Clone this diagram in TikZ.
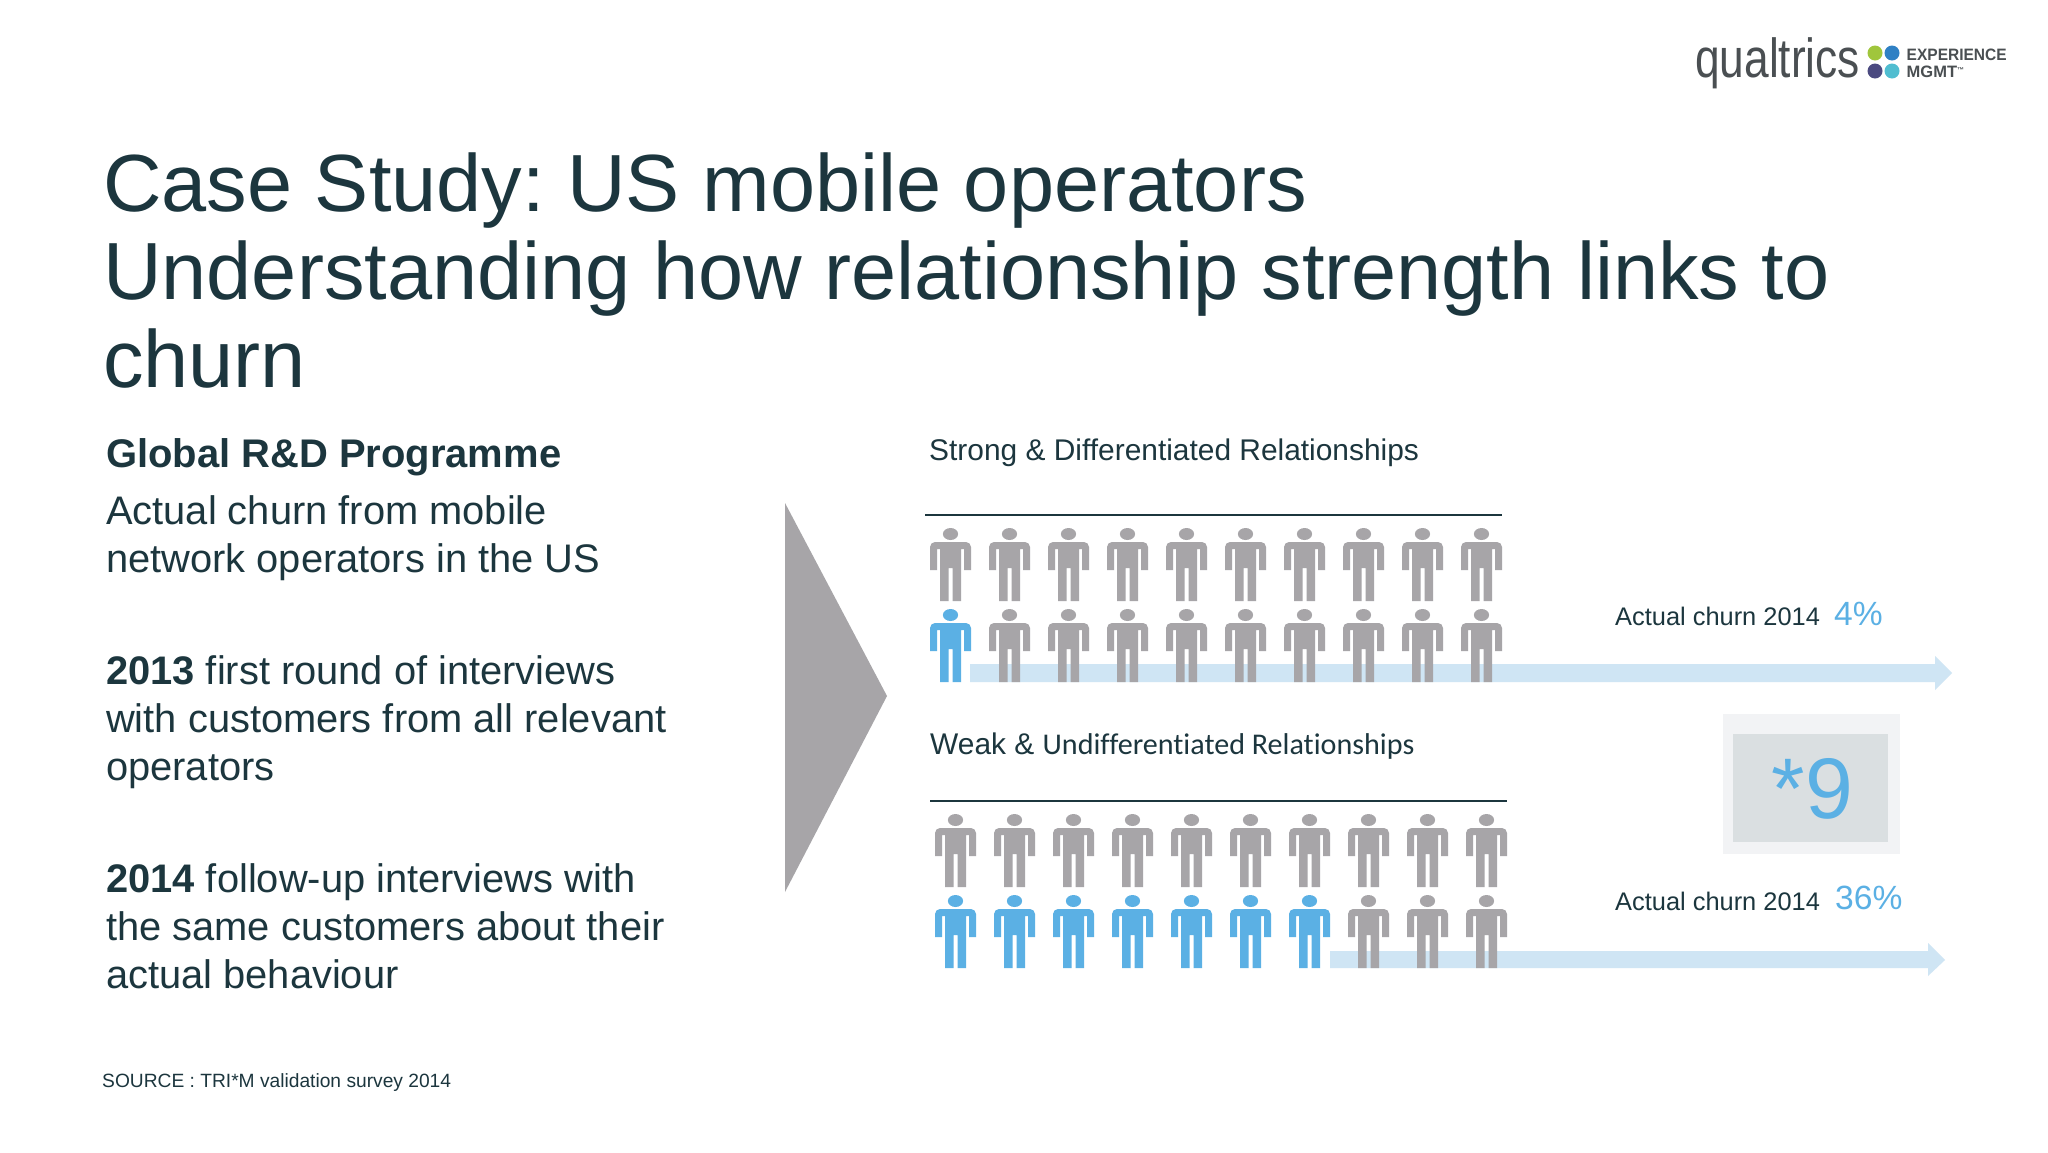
\documentclass[tikz,border=0pt]{standalone}
\usepackage{fontspec}
\setmainfont{Liberation Sans}
\newfontfamily\weakfont[Ligatures=NoCommon]{Carlito}
\frenchspacing
\definecolor{ink}{HTML}{1C363E}
\definecolor{blue}{HTML}{5BB0E4}
\definecolor{pale}{HTML}{CFE5F4}
\definecolor{grey}{HTML}{A7A5A8}
\definecolor{boxo}{HTML}{F2F3F5}
\definecolor{boxi}{HTML}{DADFE1}
\definecolor{logotext}{HTML}{4A4F52}
\definecolor{dotgreen}{HTML}{A0C63C}
\definecolor{dotblue}{HTML}{2F80C4}
\definecolor{dotnavy}{HTML}{4B4A80}
\definecolor{dotteal}{HTML}{50BDD0}
\tikzset{
  x=1pt,y=-1pt,
  lbl/.style={anchor=base west,inner sep=0pt,text=ink},
  title/.style={lbl,font=\fontsize{81.1}{88}\selectfont},
  body/.style={lbl,font=\fontsize{39.85}{48}\selectfont},
  sub/.style={lbl,font=\fontsize{29.9}{36}\selectfont},
  churn/.style={lbl,font=\fontsize{25.4}{32}\selectfont},
  pct/.style={lbl,text=blue,font=\fontsize{33.6}{40}\selectfont},
  logosmall/.style={lbl,text=logotext,font=\bfseries\fontsize{16.5}{16}\selectfont},
  person/.pic={
    \fill[pic actions] (0,-17) ellipse [x radius=7.6,y radius=6];
    \fill[pic actions] (-20.5,19) -- (-20.5,-4) .. controls (-20.5,-7) and (-18,-9) .. (-15.5,-9) -- (15.5,-9) .. controls (18,-9) and (20.5,-7) .. (20.5,-4) -- (20.5,19) -- (13.5,19) -- (13.5,-2) -- (10.5,-2) -- (10.5,50) -- (2,50) -- (2,17) -- (-2,17) -- (-2,50) -- (-10.5,50) -- (-10.5,-2) -- (-13.5,-2) -- (-13.5,19) -- cycle;
  }
}
\newcommand{\crowdrow}[4]{% x0, y, number of blue figures, name prefix
  \foreach \i in {0,...,9}{
    \pgfmathtruncatemacro{\isblue}{\i<#3 ? 1 : 0}
    \ifnum\isblue=1
      \pic[fill=blue] (#4-\i) at ({#1+59*\i},#2) {person};
    \else
      \pic[fill=grey] (#4-\i) at ({#1+59*\i},#2) {person};
    \fi
  }
}
\begin{document}
\begin{tikzpicture}
\useasboundingbox (0,0) rectangle (2048,1152);
\fill[white] (0,0) rectangle (2048,1152);

% logo
\node[lbl,text=logotext,font=\fontsize{55}{55}\selectfont] (logoq) at (1695,77) {\scalebox{0.805}[1]{qualtrics}};
\fill[dotgreen] (1875,53) circle [radius=7.5];
\fill[dotblue] (1892,53) circle [radius=7.5];
\fill[dotnavy] (1875,71) circle [radius=7.5];
\fill[dotteal] (1892,71) circle [radius=7.5];
\node[logosmall] (logoa) at (1906.5,60) {\scalebox{0.94}[1]{EXPERIENCE}};
\node[logosmall] (logob) at (1906.5,77) {MGMT\raisebox{5pt}{\fontsize{7}{7}\selectfont ™}};

% title
\node[title] (t1) at (103,211) {Case Study: US mobile operators};
\node[title] (t2) at (103,299) {Understanding how relationship strength links to};
\node[title] (t3) at (103,387) {churn};

% left column
\node[body,font=\bfseries\fontsize{39.95}{48}\selectfont] (b0) at (106,467.5) {Global R\&D Programme};
\node[body] (b1) at (106,524) {Actual churn from mobile};
\node[body] (b2) at (106,572) {network operators in the US};
\node[body] (b3) at (106,684) {\textbf{2013} first round of interviews};
\node[body] (b4) at (106,732) {with customers from all relevant};
\node[body] (b5) at (106,780) {operators};
\node[body] (b6) at (106,892) {\textbf{2014} follow-up interviews with};
\node[body] (b7) at (106,940) {the same customers about their};
\node[body] (b8) at (106,988) {actual behaviour};
\node[lbl,font=\fontsize{19.2}{24}\selectfont] (src) at (102,1087.5) {SOURCE : TRI*M validation survey 2014};

% triangle
\fill[grey] (785,503) -- (887,696) -- (785,892) -- cycle;

% arrows
\fill[pale] (970,664) -- (1935,664) -- (1935,656) -- (1952,673) -- (1935,690) -- (1935,682) -- (970,682) -- cycle;
\fill[pale] (1330,951) -- (1928,951) -- (1928,943) -- (1945,960) -- (1928,976) -- (1928,968) -- (1330,968) -- cycle;

% group 1
\node[sub] (s1) at (929,460.5) {Strong \& Differentiated Relationships};
\coordinate (l1a) at (925,515);
\coordinate (l1b) at (1502,515);
\draw[ink,line width=2pt] (l1a) -- (l1b);
\crowdrow{950.5}{551}{0}{pa}
\crowdrow{950.5}{632}{1}{pb}

% group 2
\node[sub] (s2) at (930,754) {Weak \& {\weakfont\fontsize{30.1}{36}\selectfont Undifferentiated Relationships}};
\coordinate (l2a) at (930,801);
\coordinate (l2b) at (1507,801);
\draw[ink,line width=2pt] (l2a) -- (l2b);
\crowdrow{955.5}{837}{0}{pc}
\crowdrow{955.5}{918}{7}{pd}

% labels on the right
\node[churn] (c1) at (1615,625.5) {Actual churn 2014};
\node[pct] (p1) at (1834,625.5) {4\%};
\node[churn] (c2) at (1615,910) {Actual churn 2014};
\node[pct] (p2) at (1835,909.5) {36\%};

% factor box
\fill[boxo] (1723,714) rectangle (1900,854);
\fill[boxi] (1733,734) rectangle (1888,842);
\node[lbl,text=blue,font=\fontsize{86}{88}\selectfont] (nine) at (1771.5,818) {*9};
\end{tikzpicture}
\end{document}
